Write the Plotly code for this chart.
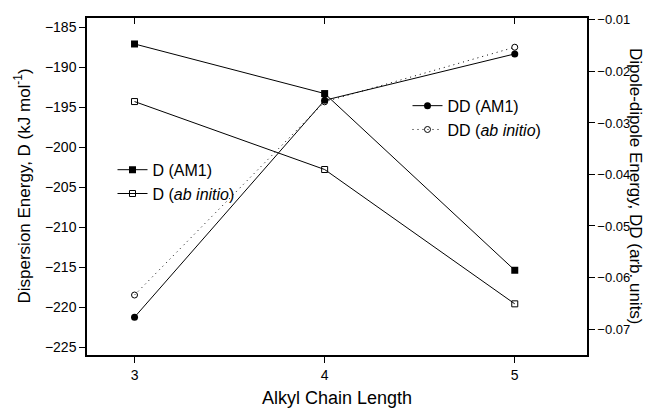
import plotly.graph_objects as go

chain_length = [3, 4, 5]
d_am1 = [-187.1, -193.3, -215.4]
d_abinitio = [-194.3, -202.8, -219.6]
dd_am1 = [-0.0677, -0.0256, -0.0166]
dd_abinitio = [-0.0634, -0.0259, -0.0153]

x_ticks = [3, 4, 5]
y1_ticks = [-225, -220, -215, -210, -205, -200, -195, -190, -185]
y2_ticks = [-0.07, -0.06, -0.05, -0.04, -0.03, -0.02, -0.01]

FONT = "Liberation Sans, Arial, sans-serif"

fig = go.Figure()
fig.add_trace(go.Scatter(x=chain_length, y=d_am1, mode="lines+markers", name="D (AM1)",
                         line=dict(color="black", width=1),
                         marker=dict(symbol="square", size=7, color="black"),
                         legend="legend"))
fig.add_trace(go.Scatter(x=chain_length, y=d_abinitio, mode="lines+markers", name="D (<i>ab initio</i>)",
                         line=dict(color="black", width=1),
                         marker=dict(symbol="square-open", size=6, color="black", line=dict(width=1)),
                         legend="legend"))
fig.add_trace(go.Scatter(x=chain_length, y=dd_am1, mode="lines+markers", name="DD (AM1)",
                         line=dict(color="black", width=1),
                         marker=dict(symbol="circle", size=7, color="black"),
                         yaxis="y2", legend="legend2"))
fig.add_trace(go.Scatter(x=chain_length, y=dd_abinitio, mode="lines+markers", name="DD (<i>ab initio</i>)",
                         line=dict(color="black", width=1, dash="1px,4px"),
                         marker=dict(symbol="circle-open", size=6, color="black", line=dict(width=1)),
                         yaxis="y2", legend="legend2"))

fig.update_layout(
    width=644, height=401,
    margin=dict(l=79, r=65, t=10, b=54),
    paper_bgcolor="white", plot_bgcolor="white",
    font=dict(family=FONT, size=14, color="black"),
    xaxis=dict(range=[2.75, 5.38], tickvals=x_ticks, ticks="outside", ticklen=6,
               tickcolor="black", showline=True, linecolor="black", linewidth=1.5,
               showgrid=False, zeroline=False, tickfont=dict(size=14), automargin=False,
               title=dict(text="Alkyl Chain Length", font=dict(size=18), standoff=10)),
    xaxis2=dict(range=[2.75, 5.38], tickvals=x_ticks, overlaying="x", side="top",
                ticks="inside", ticklen=6, tickcolor="black", showticklabels=False,
                showline=True, linecolor="black", linewidth=1.5, showgrid=False, zeroline=False),
    yaxis=dict(range=[-226.0, -183.85], tickvals=y1_ticks, ticks="outside", ticklen=6,
               tickcolor="black", showline=True, linecolor="black", linewidth=1.5,
               showgrid=False, zeroline=False, tickfont=dict(size=14), automargin=False),
    yaxis2=dict(range=[-0.07504, -0.00963], tickvals=y2_ticks, overlaying="y", side="right",
                ticks="outside", ticklen=6, tickcolor="black", showline=True,
                linecolor="black", linewidth=1.5, showgrid=False, zeroline=False,
                tickfont=dict(size=13), automargin=False),
    legend=dict(x=0.051, y=0.6, xanchor="left", yanchor="top", bgcolor="rgba(0,0,0,0)",
                font=dict(size=16), tracegroupgap=0, itemsizing="trace"),
    legend2=dict(x=0.641, y=0.79, xanchor="left", yanchor="top", bgcolor="rgba(0,0,0,0)",
                 font=dict(size=16), tracegroupgap=0, itemsizing="trace"),
    showlegend=True,
)
# phantom trace to activate xaxis2
fig.add_trace(go.Scatter(x=[3], y=[-200], xaxis="x2", mode="markers",
                         marker=dict(opacity=0), showlegend=False, hoverinfo="skip"))

fig.add_annotation(text="Dispersion Energy, D (kJ mol<sup>-1</sup>)", textangle=-90,
                   xref="paper", yref="paper", x=-0.13, y=0.5, showarrow=False,
                   font=dict(size=17, family=FONT), xanchor="center", yanchor="middle")
fig.add_annotation(text="Dipole-dipole Energy, DD (arb. units)", textangle=90,
                   xref="paper", yref="paper", x=1.097, y=0.5, showarrow=False,
                   font=dict(size=17, family=FONT), xanchor="center", yanchor="middle")

fig.write_html("out.html")
